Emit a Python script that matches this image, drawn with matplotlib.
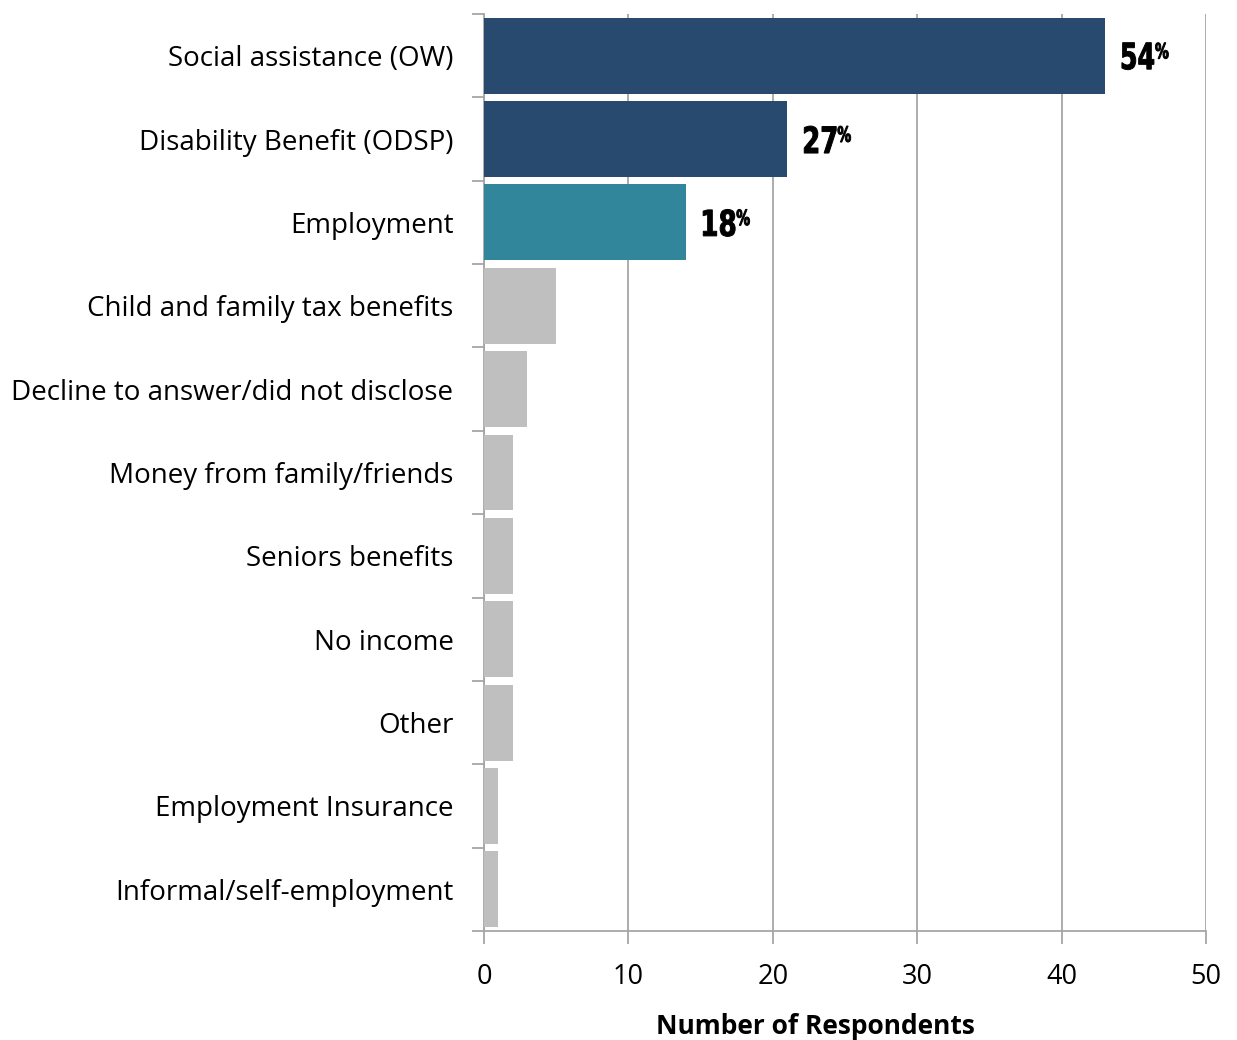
import matplotlib
matplotlib.use("Agg")
import matplotlib.pyplot as plt
import numpy as np
from matplotlib.textpath import TextPath
from matplotlib.font_manager import FontProperties
from matplotlib.patches import PathPatch
from matplotlib.transforms import Affine2D, IdentityTransform

categories = [
    "Social assistance (OW)",
    "Disability Benefit (ODSP)",
    "Employment",
    "Child and family tax benefits",
    "Decline to answer/did not disclose",
    "Money from family/friends",
    "Seniors benefits",
    "No income",
    "Other",
    "Employment Insurance",
    "Informal/self-employment",
]
respondents = [43, 21, 14, 5, 3, 2, 2, 2, 2, 1, 1]
pct_labels = ["54", "27", "18"]
xtick_values = [0, 10, 20, 30, 40, 50]

NAVY = "#284A6E"
TEAL = "#31869B"
GREY = "#BFBFBF"
AXIS_GREY = "#A6A6A6"
colors = [NAVY, NAVY, TEAL] + [GREY] * (len(categories) - 3)

plt.rcParams["font.family"] = ["Open Sans", "DejaVu Sans"]

fig = plt.figure(figsize=(12.37, 10.40), dpi=100)
ax = fig.add_axes([484 / 1237, 1 - 931 / 1040, (1206 - 484) / 1237, (931 - 14) / 1040])

y = np.arange(len(categories))
ax.barh(y, respondents, height=0.91, color=colors, zorder=3)

ax.set_xlim(0, 50)
ax.set_ylim(len(categories) - 0.5, -0.5)

# vertical gridlines
ax.set_xticks(xtick_values)
ax.set_xticklabels([str(v) for v in xtick_values], fontsize=19.5)
ax.grid(axis="x", color=AXIS_GREY, linewidth=1.3, zorder=0)

# category boundaries as tick marks, names centred between them
ax.set_yticks(np.arange(-0.5, len(categories), 1.0))
ax.set_yticklabels([])
ax.set_yticks(y, minor=True)
ax.set_yticklabels(categories, minor=True, fontsize=20)
ax.tick_params(axis="y", which="major", length=9, width=1.3, color=AXIS_GREY)
ax.tick_params(axis="y", which="minor", length=0, pad=22)
ax.tick_params(axis="x", length=9, width=1.3, color=AXIS_GREY, pad=14)

for side in ["top", "right"]:
    ax.spines[side].set_visible(False)
for side in ["left", "bottom"]:
    ax.spines[side].set_color(AXIS_GREY)
    ax.spines[side].set_linewidth(1.3)

fig.text(815 / 1237, 1 - 1027 / 1040, "Number of Respondents", ha="center", va="center",
         fontsize=19, fontweight="bold")

# condensed heavy lettering for the percentage annotations
label_font = FontProperties(family="DejaVu Sans", weight="bold")


def condensed_text(s, x_left, y_bottom, height_px, width_px):
    """Draw s as a filled outline squeezed into the given pixel box (display coords)."""
    tp = TextPath((0, 0), s, size=100, prop=label_font)
    bb = tp.get_extents()
    tr = (Affine2D().translate(-bb.x0, -bb.y0)
          .scale(width_px / bb.width, height_px / bb.height)
          .translate(x_left, y_bottom))
    patch = PathPatch(tr.transform_path(tp), transform=IdentityTransform(),
                      facecolor="black", edgecolor="black", linewidth=0.7)
    fig.add_artist(patch)
    return x_left + width_px


for i, lab in enumerate(pct_labels):
    bx, by = ax.transData.transform((respondents[i], y[i]))
    digits_h = 27
    x_end = condensed_text(lab, bx + 17, by - 14, digits_h, 16 * len(lab))
    condensed_text("%", x_end + 1.5, by - 14 + digits_h - 16, 16, 13)

fig.savefig("out.png", dpi=100)
